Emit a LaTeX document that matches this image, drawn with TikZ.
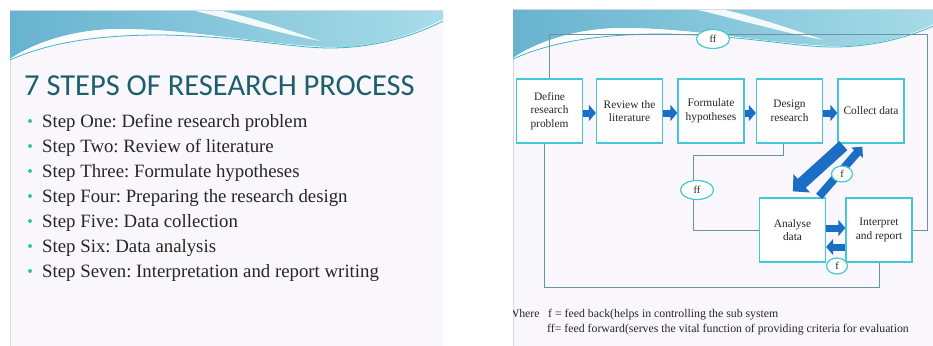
\documentclass[tikz,border=0pt]{standalone}
\usepackage{fontspec}
\setmainfont{Liberation Serif}
\newfontfamily\titlefont{Carlito}
\usetikzlibrary{arrows.meta,shapes.geometric}
\frenchspacing

\definecolor{slidebg}{HTML}{F9F7FB}
\definecolor{slideedge}{HTML}{DCDADF}
\definecolor{titleteal}{HTML}{1E5F6D}
\definecolor{bodygray}{HTML}{262626}
\definecolor{dotteal}{HTML}{2EC4B2}
\definecolor{boxcyan}{HTML}{45C8D6}
\definecolor{linkgray}{HTML}{6A93A8}
\definecolor{arrowblue}{HTML}{1C6EC4}
\definecolor{waveA}{HTML}{68B3CF}
\definecolor{waveB}{HTML}{A8DCE8}
\definecolor{waveline}{HTML}{3DB8C9}

% wavy header band of a slide, in slide-local coordinates
\newcommand\wavehead{%
  \shade[left color=waveA, right color=waveB]
    (0,0) -- (433,0) -- (433,8)
    .. controls (395,28) and (355,38) .. (315,36)
    .. controls (250,33) and (180,18) .. (110,18)
    .. controls (60,18) and (20,34) .. (0,48) -- cycle;
  \fill[white, opacity=0.85]
    (0,48) .. controls (20,34) and (60,18) .. (110,18)
    .. controls (180,18) and (250,33) .. (315,36)
    .. controls (280,38) and (230,26) .. (150,23)
    .. controls (90,21) and (40,31) .. (0,49) -- cycle;
  \fill[white, opacity=0.9]
    (185,0) .. controls (220,8) and (260,20) .. (310,30)
    .. controls (268,15) and (235,5) .. (212,0) -- cycle;
  \draw[waveline, line width=0.8pt]
    (0,49) .. controls (40,31) and (90,24) .. (150,24)
    .. controls (230,25) and (280,37) .. (320,37)
    .. controls (370,37) and (410,22) .. (433,10);
}

\tikzset{
  slide/.style={fill=slidebg, draw=slideedge, line width=1pt},
  stepbox/.style={draw=boxcyan, line width=1.3pt, fill=white,
    minimum width=66pt, minimum height=64pt, align=center,
    font=\fontsize{11.4}{13.5}\selectfont, text=bodygray, inner sep=2pt},
  fbtag/.style={ellipse, draw=boxcyan, line width=1.2pt, fill=white,
    font=\fontsize{10.5}{12}\selectfont, text=bodygray, inner sep=0pt,
    minimum width=21pt, minimum height=16pt},
  fftag/.style={fbtag, minimum width=33pt, minimum height=19pt},
  link/.style={draw=linkgray, line width=1pt},
  blockarrow/.style={draw=arrowblue, line width=7pt,
    -{Triangle[length=7pt,width=16pt]}},
  bigarrow/.style={draw=arrowblue, line width=12pt,
    -{Triangle[length=12pt,width=24pt]}},
  midarrow/.style={draw=arrowblue, line width=8pt,
    -{Triangle[length=8pt,width=15pt]}},
  bullettext/.style={anchor=base west, text=bodygray,
    font=\fontsize{18.8}{22}\selectfont, inner sep=0pt},
  notetext/.style={anchor=base west, text=bodygray,
    font=\fontsize{11.8}{13}\selectfont, inner sep=0pt},
}

\begin{document}
\begin{tikzpicture}[x=1pt, y=-1pt]
\useasboundingbox (0,0) rectangle (933,345);
\fill[white] (0,0) rectangle (933,345);

% ---------------- left slide: list of steps ----------------
\begin{scope}
  \clip (10,11) rectangle (443,346);
  \path[slide] (10,11) rectangle (443,360);
  \begin{scope}[shift={(10,11)}] \wavehead \end{scope}
  \node[anchor=base west, text=titleteal, inner sep=0pt,
        font=\titlefont\fontsize{30.5}{34}\selectfont] (title) at (24,95)
        {7 STEPS OF RESEARCH PROCESS};
  \foreach \t [count=\i] in {
      Step One: Define research problem,
      Step Two: Review of literature,
      Step Three: Formulate hypotheses,
      Step Four: Preparing the research design,
      Step Five: Data collection,
      Step Six: Data analysis,
      Step Seven: Interpretation and report writing} {
    \fill[dotteal] (30,{96+25*\i}) circle (2pt);
    \node[bullettext] (item\i) at (42,{102+25*\i}) {\t};
  }
\end{scope}

% ---------------- right slide: process diagram ----------------
\begin{scope}
  \clip (513,10) rectangle (933,346);
  \path[slide] (513,10) rectangle (946,360);
  \begin{scope}[shift={(513,10)}] \wavehead \end{scope}

  % process steps
  \node[stepbox] (define)    at (549.5,111) {Define\\research\\problem};
  \node[stepbox] (review)    at (629.5,111) {Review the\\literature};
  \node[stepbox] (formulate) at (711,111)   {Formulate\\hypotheses};
  \node[stepbox] (design)    at (789.5,111) {Design\\research};
  \node[stepbox] (collect)   at (871,111)   {Collect data};
  \node[stepbox] (analyse)   at (792.5,230) {Analyse\\data};
  \node[stepbox] (interpret) at (879,230)   {Interpret\\and report};

  % feed-forward and feedback loops
  \coordinate (topright) at (927,35);
  \draw[link] (define.north) |- (topright) |- (interpret.east);
  \draw[link] ([xshift=-5pt]define.south) -- ++(0,144) -| (interpret.south);
  \coordinate (designdrop) at (693,155);
  \draw[link] ([xshift=-6pt]design.south) |- (designdrop) |- (analyse.west);

  % flow arrows along the top row
  \draw[blockarrow] ([yshift=-2pt]define.east)    -- ([yshift=-2pt]review.west);
  \draw[blockarrow] ([yshift=-2pt]review.east)    -- ([yshift=-2pt]formulate.west);
  \draw[blockarrow] ([yshift=-2pt]formulate.east) -- ([yshift=-2pt]design.west);
  \draw[blockarrow] ([yshift=-2pt]design.east)    -- ([yshift=-2pt]collect.west);

  % collect <-> analyse
  \draw[bigarrow] ([xshift=6pt,yshift=-2pt]collect.south west)
                  -- ([xshift=34pt,yshift=6pt]analyse.north west);
  \draw[midarrow] ([xshift=-7pt,yshift=1pt]analyse.north east)
                  -- ([xshift=25pt,yshift=-3pt]collect.south west);

  % analyse <-> interpret
  \draw[blockarrow] ([yshift=2pt]analyse.east) -- ([yshift=2pt]interpret.west);
  \draw[blockarrow] ([yshift=-17pt]interpret.west) -- ([yshift=-17pt]analyse.east);

  % loop labels
  \node[fftag] (fftop) at (713,39)  {ff};
  \node[fftag] (ffmid) at (697,190) {ff};
  \node[fbtag] (fbup)  at (842,174) {f};
  \node[fbtag] (fblow) at (837,266) {f};

  % legend
  \node[notetext] (where)  at (508,317) {Where};
  \node[notetext] (fnote)  at (548,317) {f = feed back(helps in controlling the sub system};
  \node[notetext] (ffnote) at (547,332) {ff= feed forward(serves the vital function of providing criteria for evaluation};
\end{scope}
\end{tikzpicture}
\end{document}
